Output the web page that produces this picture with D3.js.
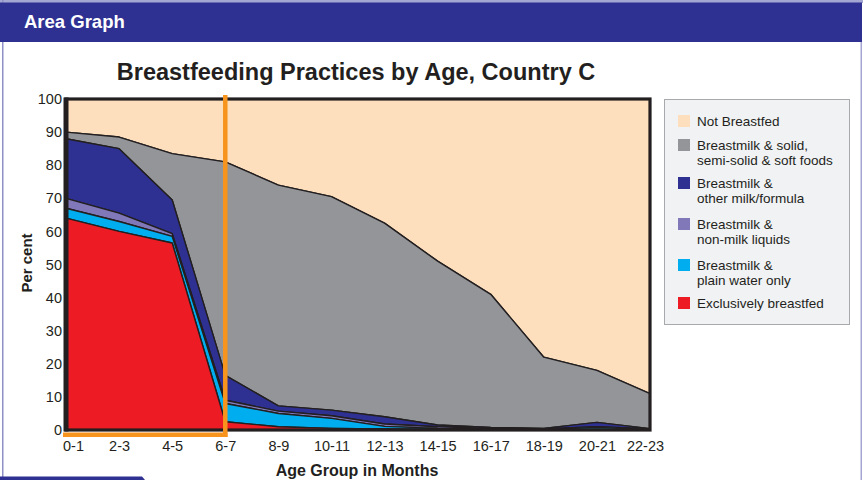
<!DOCTYPE html>
<html lang="en">
<head>
<meta charset="utf-8">
<title>Breastfeeding Practices by Age</title>
<script src="https://d3js.org/d3.v7.min.js"></script>
<style>
  body { margin: 0; background: #fff; font-family: "Liberation Sans", Arial, sans-serif; }
  svg text { fill: #231f20; }
</style>
</head>
<body>
<div id="chart"></div>
<script>
// age groups (x categories)
var ages = ["0-1", "2-3", "4-5", "6-7", "8-9", "10-11", "12-13", "14-15", "16-17", "18-19", "20-21", "22-23"];
// per cent of children in each practice
var exclusive = [64, 60, 56.5, 2.5, 1, 0.5, 0.3, 0.2, 0.2, 0.1, 0.2, 0.1];
var plainWater = [3, 3, 2, 5.5, 4, 3, 0.8, 0.3, 0.1, 0.1, 0.6, 0.1];
var nonMilk = [3, 2.5, 0.8, 1, 0.7, 0.8, 0.7, 0.5, 0.2, 0.1, 0.2, 0.1];
var otherMilk = [18, 19.5, 10.2, 7.5, 1.6, 1.7, 2.2, 0.5, 0.3, 0.2, 1.3, 0.1];
var solidFoods = [2, 3.5, 14, 64.5, 66.7, 64.5, 58.5, 49.5, 40.2, 21.5, 15.7, 10.6];
var notBreastfed = [10, 11.5, 16.5, 19, 26, 29.5, 37.5, 49, 59, 78, 82, 89];
var yTicks = [0, 10, 20, 30, 40, 50, 60, 70, 80, 90, 100];

var keys = ["exclusive", "plainWater", "nonMilk", "otherMilk", "solidFoods", "notBreastfed"];
var labels = {
  notBreastfed: ["Not Breastfed"],
  solidFoods: ["Breastmilk & solid,", "semi-solid & soft foods"],
  otherMilk: ["Breastmilk &", "other milk/formula"],
  nonMilk: ["Breastmilk &", "non-milk liquids"],
  plainWater: ["Breastmilk &", "plain water only"],
  exclusive: ["Exclusively breastfed"]
};
var colors = {
  notBreastfed: "#fddfbd",
  solidFoods: "#939598",
  otherMilk: "#2e3192",
  nonMilk: "#8078b8",
  plainWater: "#00aeef",
  exclusive: "#ed1c24"
};

var rows = ages.map(function(a, i) {
  return {
    age: a,
    exclusive: exclusive[i],
    plainWater: plainWater[i],
    nonMilk: nonMilk[i],
    otherMilk: otherMilk[i],
    solidFoods: solidFoods[i],
    notBreastfed: notBreastfed[i]
  };
});

var w = 863, h = 480;
var svg = d3.select("#chart").append("svg").attr("width", w).attr("height", h);

// frame of the page
svg.append("rect").attr("x", 0).attr("y", 0).attr("width", w).attr("height", 3).attr("fill", "#a5a7d3");
svg.append("rect").attr("x", 2).attr("y", 0).attr("width", 1.5).attr("height", h).attr("fill", "#8e90c6");
svg.append("rect").attr("x", 860.5).attr("y", 0).attr("width", 1.5).attr("height", h).attr("fill", "#a5a7d3");
svg.append("rect").attr("x", 0).attr("y", 2.5).attr("width", 862).attr("height", 39.5).attr("fill", "#2e3192");
svg.append("text").attr("x", 24).attr("y", 28)
  .style("font-size", "18.5px").style("font-weight", "bold").style("fill", "#fff")
  .text("Area Graph");
svg.append("path").attr("d", "M0,476.5 L142,476.5 L145,480 L0,480 Z").attr("fill", "#2e3192");

// title
svg.append("text").attr("x", 356).attr("y", 80).attr("text-anchor", "middle")
  .style("font-size", "23.5px").style("font-weight", "bold")
  .text("Breastfeeding Practices by Age, Country C");

var x = d3.scalePoint().domain(ages).range([66, 650]);
var y = d3.scaleLinear().domain([0, 100]).range([430, 99]);

var series = d3.stack().keys(keys)(rows);

var area = d3.area()
  .x(function(d) { return x(d.data.age); })
  .y0(function(d) { return y(d[0]); })
  .y1(function(d) { return y(d[1]); });

svg.append("g").selectAll("path")
  .data(series.slice().reverse())
  .enter()
  .append("path")
  .attr("d", area)
  .attr("fill", function(d) { return colors[d.key]; })
  .attr("stroke", "#231f20")
  .attr("stroke-width", 1.4)
  .attr("stroke-linejoin", "round");

// plot frame
svg.append("rect")
  .attr("x", x(ages[0])).attr("y", y(100))
  .attr("width", x(ages[ages.length - 1]) - x(ages[0]))
  .attr("height", y(0) - y(100))
  .attr("fill", "none").attr("stroke", "#231f20").attr("stroke-width", 3.2);
svg.append("line")
  .attr("x1", x(ages[0])).attr("x2", x(ages[0]))
  .attr("y1", y(100) - 1.5).attr("y2", y(0) + 1.5)
  .attr("stroke", "#231f20").attr("stroke-width", 5);

// orange highlight on the first six months
var ox = x("6-7");
svg.append("line").attr("x1", ox).attr("x2", ox).attr("y1", y(100) - 4).attr("y2", y(0) + 7)
  .attr("stroke", "#f7941d").attr("stroke-width", 4.5);
svg.append("line").attr("x1", x(ages[0]) - 3).attr("x2", ox + 2.2).attr("y1", y(0) + 4.8).attr("y2", y(0) + 4.8)
  .attr("stroke", "#f7941d").attr("stroke-width", 4.5);

// axes
var yAxis = svg.append("g").attr("transform", "translate(62,0)")
  .call(d3.axisLeft(y).tickValues(yTicks).tickSize(0).tickPadding(0));
yAxis.select(".domain").remove();
yAxis.selectAll("text").style("font-size", "14.5px").style("font-family", "Liberation Sans, Arial, sans-serif");

var xAxis = svg.append("g").attr("transform", "translate(0,441)")
  .call(d3.axisBottom(x).tickSize(0).tickPadding(0));
xAxis.select(".domain").remove();
xAxis.selectAll("text").style("font-size", "14.5px").style("font-family", "Liberation Sans, Arial, sans-serif")
  .attr("dx", function(d, i) { return i == 0 ? 7 : (i == ages.length - 1 ? -5 : 0); });

svg.append("text").attr("transform", "translate(32,263) rotate(-90)").attr("text-anchor", "middle")
  .style("font-size", "15px").style("font-weight", "bold").text("Per cent");
svg.append("text").attr("x", 357).attr("y", 476).attr("text-anchor", "middle")
  .style("font-size", "16px").style("font-weight", "bold").text("Age Group in Months");

// legend
svg.append("rect").attr("x", 664.5).attr("y", 99.5).attr("width", 185).attr("height", 225)
  .attr("fill", "#f1f2f4").attr("stroke", "#a7a9ac").attr("stroke-width", 1);
var legendKeys = keys.slice().reverse();
var legendY = [115, 139, 177, 218, 259, 297];
var leg = svg.append("g").selectAll("g")
  .data(legendKeys)
  .enter()
  .append("g")
  .attr("transform", function(d, i) { return "translate(678," + legendY[i] + ")"; });
leg.append("rect").attr("width", 12).attr("height", 12).attr("fill", function(d) { return colors[d]; });
leg.each(function(d) {
  var g = d3.select(this);
  labels[d].forEach(function(line, j) {
    g.append("text").attr("x", 19).attr("y", 11 + j * 14.5)
      .style("font-size", "13.5px").text(line);
  });
});
</script>
</body>
</html>
